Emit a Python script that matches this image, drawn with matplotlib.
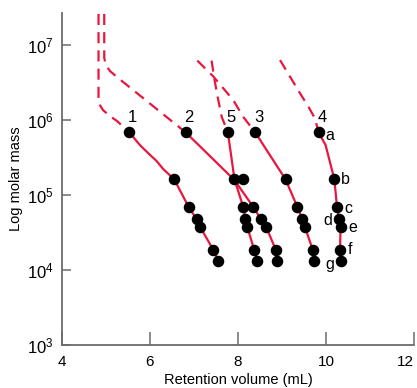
import math
import matplotlib
matplotlib.use("Agg")
import matplotlib.pyplot as plt
from matplotlib import font_manager
from matplotlib.ticker import FixedLocator, FuncFormatter

# ---- data -------------------------------------------------------------
# molar masses of the seven standards a..g
standard_labels = ["a", "b", "c", "d", "e", "f", "g"]
standard_mass = [6.85e5, 1.62e5, 6.9e4, 4.75e4, 3.75e4, 1.85e4, 1.33e4]

series_names = ["1", "2", "5", "3", "4"]

# retention volumes (mL) of standards a..g on each column
vol_1 = [5.53, 6.55, 6.88, 7.06, 7.14, 7.44, 7.55]
vol_2 = [6.81, 8.11, 8.35, 8.52, 8.64, 8.86, 8.88]
vol_5 = [7.77, 7.92, 8.12, 8.17, 8.21, 8.37, 8.44]
vol_3 = [8.39, 9.08, 9.35, 9.46, 9.52, 9.70, 9.73]
vol_4 = [9.83, 10.19, 10.25, 10.30, 10.33, 10.32, 10.35]

# solid calibration curves (retention volume, molar mass)
curve_1_v = [5.53, 5.77, 5.96, 6.15, 6.30, 6.55, 6.88, 7.06, 7.14, 7.44, 7.55]
curve_1_m = [6.85e5, 4.64e5, 3.61e5, 2.84e5, 2.22e5, 1.62e5, 6.9e4, 4.75e4, 3.75e4, 1.85e4, 1.33e4]
curve_2_v = [6.81, 7.92, 8.35, 8.52, 8.64, 8.86, 8.88]
curve_2_m = [6.85e5, 1.58e5, 6.9e4, 4.75e4, 3.75e4, 1.85e4, 1.33e4]
curve_5_v = vol_5
curve_5_m = standard_mass
curve_3_v = vol_3
curve_3_m = standard_mass
curve_4_v = [9.83, 9.99, 10.19, 10.25, 10.30, 10.33, 10.32, 10.35]
curve_4_m = [6.85e5, 4.64e5, 1.62e5, 6.9e4, 4.75e4, 3.75e4, 1.85e4, 1.33e4]

# dashed extrapolations above the highest standard
ext_1_v = [4.83, 4.83, 4.93, 5.09, 5.25, 5.53]
ext_1_m = [2.6e7, 1.69e6, 1.36e6, 1.13e6, 9.7e5, 6.85e5]
ext_2_v = [4.96, 4.96, 5.00, 5.09, 5.25, 6.81]
ext_2_m = [2.6e7, 6.7e6, 5.4e6, 4.5e6, 3.74e6, 6.85e5]
ext_5_v = [7.40, 7.46, 7.54, 7.63, 7.77]
ext_5_m = [6.2e6, 3.6e6, 2.0e6, 1.1e6, 6.85e5]
ext_3_v = [7.075, 7.44, 7.89, 8.12, 8.39]
ext_3_m = [6.2e6, 3.8e6, 1.85e6, 1.1e6, 6.85e5]
ext_4_v = [8.955, 9.18, 9.41, 9.59, 9.75, 9.83]
ext_4_m = [6.3e6, 3.8e6, 2.27e6, 1.54e6, 1.05e6, 6.85e5]

x_ticks = [4, 6, 8, 10, 12]
y_ticks = [1e3, 1e4, 1e5, 1e6, 1e7]

# ---- style ------------------------------------------------------------
available = {f.name for f in font_manager.fontManager.ttflist}
family = "Liberation Sans Narrow" if "Liberation Sans Narrow" in available else "Liberation Sans"
plt.rcParams["font.family"] = [family, "DejaVu Sans"]
plt.rcParams["mathtext.fontset"] = "custom"
plt.rcParams["mathtext.rm"] = family
plt.rcParams["mathtext.it"] = family
plt.rcParams["mathtext.bf"] = family

RED = "#e8173e"
GREY = "#6b6b6b"

fig = plt.figure(figsize=(4.17, 3.88), dpi=100)
ax = fig.add_axes([62 / 417, 43 / 388, (414 - 62) / 417, (345 - 13) / 388])
ax.set_yscale("log")
ax.set_xlim(4, 12)
ax.set_ylim(1e3, 10 ** 7.427)

line_kw = dict(color=RED, lw=1.6, solid_capstyle="butt", solid_joinstyle="round")
dash_kw = dict(color=RED, lw=1.6, dashes=(5, 3.2))

curves = [(curve_1_v, curve_1_m), (curve_2_v, curve_2_m), (curve_5_v, curve_5_m),
          (curve_3_v, curve_3_m), (curve_4_v, curve_4_m)]
exts = [(ext_1_v, ext_1_m), (ext_2_v, ext_2_m), (ext_5_v, ext_5_m),
        (ext_3_v, ext_3_m), (ext_4_v, ext_4_m)]
vols = [vol_1, vol_2, vol_5, vol_3, vol_4]

for (cv, cm), (ev, em) in zip(curves, exts):
    ax.plot(ev, em, **dash_kw, zorder=2)
    ax.plot(cv, cm, **line_kw, zorder=2)

for name, v in zip(series_names, vols):
    ax.plot(v, standard_mass, "o", color="black", ms=7.3, zorder=3)
    ax.annotate(name, (v[0], standard_mass[0]), xytext=(2.5, 10.5),
                textcoords="offset points", ha="center", va="center", fontsize=12)

# standard letters beside column 4
letter_offsets = [(8, -2.5), (8, 0), (8, -0.7), (-8, -1), (8.5, -0.3), (7, 0.5), (-8.5, -2.5)]
for lab, v, m, off in zip(standard_labels, vol_4, standard_mass, letter_offsets):
    ax.annotate(lab, (v, m), xytext=off, textcoords="offset points",
                ha="center", va="center", fontsize=11.5)

# ---- axes -------------------------------------------------------------
for side in ("top", "right"):
    ax.spines[side].set_visible(False)
for side in ("left", "bottom"):
    ax.spines[side].set_color(GREY)
    ax.spines[side].set_linewidth(1.3)

ax.xaxis.set_major_locator(FixedLocator(x_ticks))
ax.yaxis.set_major_locator(FixedLocator(y_ticks))
ax.yaxis.set_minor_locator(FixedLocator([]))
ax.yaxis.set_major_formatter(
    FuncFormatter(lambda v, p: r"$\mathregular{10^{%d}}$" % round(math.log10(v))))
ax.tick_params(axis="x", direction="in", length=9.5, width=1.1, color=GREY,
               pad=7, labelsize=11)
ax.tick_params(axis="y", direction="in", length=6.5, width=1.1, color=GREY,
               pad=6, labelsize=12)

# the last x label sits flush against the figure edge
fig.canvas.draw()
ax.get_xticklabels()[-1].set_horizontalalignment("right")
ax.get_xticklabels()[-1].set_x(12)

ax.set_xlabel("Retention volume (mL)", fontsize=10.5, labelpad=3)
ax.set_ylabel("Log molar mass", fontsize=10.5, labelpad=3)

fig.savefig("out.png", dpi=100)
